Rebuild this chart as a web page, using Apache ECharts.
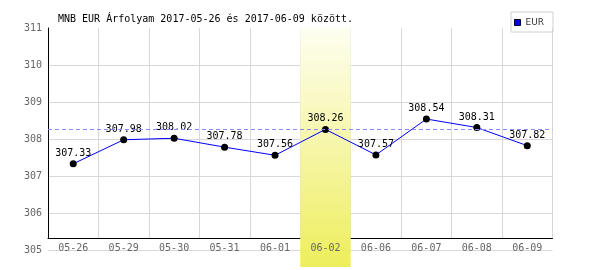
<!DOCTYPE html>
<html>
<head>
<meta charset="utf-8">
<script src="https://cdn.jsdelivr.net/npm/echarts@6/dist/echarts.min.js"></script>
<style>html,body{margin:0;padding:0;background:#fff}#c{width:600px;height:270px}</style>
</head>
<body>
<div id="c"></div>
<script>
const titleText = 'MNB EUR Árfolyam 2017-05-26 és 2017-06-09 között.';
const categories = ['05-26','05-29','05-30','05-31','06-01','06-02','06-06','06-07','06-08','06-09'];
const eurValues = [307.33, 307.98, 308.02, 307.78, 307.56, 308.26, 307.57, 308.54, 308.31, 307.82];
const referenceLevel = 308.27;
const highlightCategory = '06-02';
const yTicks = [305, 306, 307, 308, 309, 310, 311];

const mono = 'DejaVu Sans Mono';
const bandData = categories.map(c => c === highlightCategory ? 1 : '-');
const gridColor = '#d8d8d8';
const splitColors = yTicks.map((t, i) => i === yTicks.length - 1 ? 'rgba(0,0,0,0)' : gridColor);
const L = 48, R = 47.5;

const chart = echarts.init(document.getElementById('c'));
chart.setOption({
  animation: false,
  backgroundColor: '#fff',
  title: {
    text: titleText, left: 53, top: 9,
    textStyle: { fontFamily: mono, fontSize: 10, fontWeight: 'normal', color: '#000' }
  },
  legend: {
    data: ['EUR'], left: 511, top: 12,
    padding: [6, 9, 5, 3],
    borderColor: '#d0d0d0', borderWidth: 1,
    itemWidth: 6, itemHeight: 6, icon: 'rect',
    textStyle: { fontFamily: 'DejaVu Sans', fontSize: 9, color: '#333' },
    itemStyle: { color: '#0000ff', borderColor: '#000033', borderWidth: 1 }
  },
  grid: [
    { left: L, right: R, top: 28, height: 222 },
    { left: L, right: R, top: 28, height: 210 },
    { left: L, right: R, top: 28, height: 239 }
  ],
  xAxis: [
    { type: 'category', gridIndex: 0, data: categories, show: false },
    { type: 'category', gridIndex: 1, data: categories, z: 0, position: 'bottom',
      axisLine: { lineStyle: { color: '#000', width: 1 } },
      axisTick: { show: false }, axisLabel: { show: false },
      splitLine: { show: true, interval: 0, lineStyle: { color: gridColor } } },
    { type: 'category', gridIndex: 2, data: categories, show: false },
    { type: 'category', gridIndex: 1, data: categories, z: 5, position: 'bottom', offset: 0,
      axisLine: { show: false }, axisTick: { show: false },
      axisLabel: { interval: 0, margin: 5, fontFamily: mono, fontSize: 10, color: '#666' },
      splitLine: { show: false } }
  ],
  yAxis: [
    { type: 'value', gridIndex: 0, min: yTicks[0], max: yTicks[yTicks.length - 1], interval: 1,
      axisLine: { show: false }, axisTick: { show: false },
      axisLabel: { margin: 6, fontFamily: mono, fontSize: 10, color: '#666' },
      splitLine: { show: true, lineStyle: { color: splitColors } } },
    { type: 'value', gridIndex: 1, min: 0, max: 1,
      axisLine: { show: true, lineStyle: { color: '#000', width: 1 } },
      axisTick: { show: false }, axisLabel: { show: false }, splitLine: { show: false } },
    { type: 'value', gridIndex: 2, min: 0, max: 1, show: false, splitLine: { show: false } }
  ],
  series: [
    {
      type: 'bar', xAxisIndex: 2, yAxisIndex: 2, data: bandData, z: 1,
      barWidth: '100%', silent: true,
      itemStyle: {
        color: new echarts.graphic.LinearGradient(0, 0, 0, 1, [
          { offset: 0, color: '#fefef2' },
          { offset: 1, color: '#eeee5c' }
        ])
      }
    },
    {
      name: 'EUR', type: 'line', xAxisIndex: 0, yAxisIndex: 0, data: eurValues, z: 3,
      lineStyle: { color: '#0000ff', width: 1 },
      itemStyle: { color: '#000' },
      symbol: 'circle', symbolSize: 7,
      label: {
        show: true, position: 'top', distance: 2,
        fontFamily: mono, fontSize: 10, color: '#000',
        formatter: p => p.value.toFixed(2)
      },
      markLine: {
        silent: true, symbol: 'none', label: { show: false },
        lineStyle: { color: '#8888ff', type: [4, 3], width: 1 },
        data: [{ yAxis: referenceLevel }]
      }
    }
  ]
});
</script>
</body>
</html>
